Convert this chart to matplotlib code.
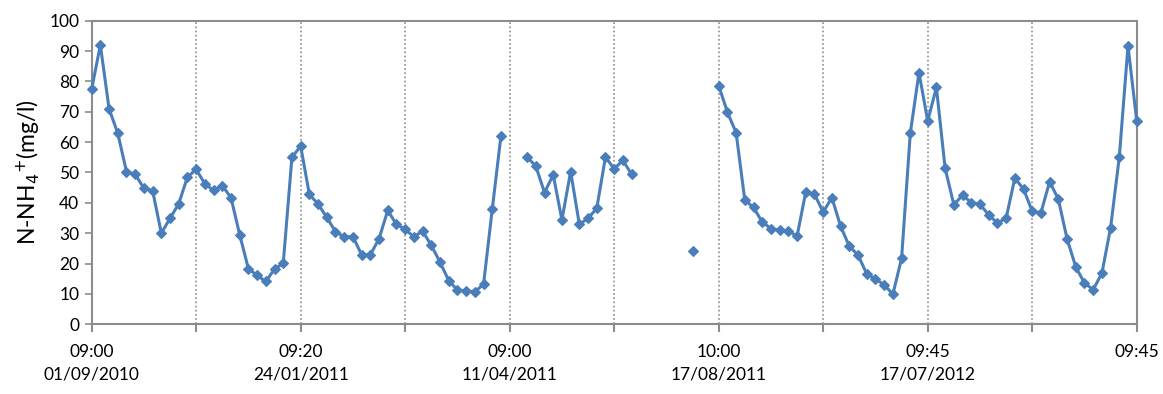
import matplotlib
matplotlib.use('Agg')
import matplotlib.pyplot as plt
import numpy as np

nan = np.nan

# N-NH4+ concentration (mg/l), one value per sample, gaps are missing samples
nh4 = [
    77.4, 92.0, 71.0, 62.9, 50.3, 49.4, 44.8, 44.0, 30.0, 34.9, 39.7, 48.5,
    51.0, 46.3, 44.1, 45.7, 41.7, 29.5, 18.3, 16.1, 14.1, 18.2, 20.1, 55.0,
    58.7, 42.8, 39.6, 35.2, 30.5, 28.8, 28.9, 22.9, 22.9, 28.2, 37.5, 32.9,
    31.3, 28.8, 30.7, 26.0, 20.5, 14.4, 11.3, 11.0, 10.7, 13.2, 37.9, 62.1,
    nan, nan, 55.1, 52.1, 43.4, 49.2, 34.4, 50.3, 32.9, 34.9, 38.2, 55.1,
    51.2, 54.0, 49.4, nan, nan, nan, nan, nan, nan, 24.1, nan, nan,
    78.6, 69.9, 63.1, 40.9, 38.5, 33.7, 31.5, 31.0, 30.8, 29.0, 43.6, 42.8,
    37.0, 41.7, 32.3, 25.7, 22.8, 16.6, 14.9, 13.0, 9.9, 21.7, 62.9, 82.9,
    67.0, 78.0, 51.4, 39.4, 42.5, 40.1, 39.6, 36.0, 33.4, 34.9, 48.1, 44.6,
    37.2, 36.7, 47.0, 41.2, 28.2, 18.9, 13.6, 11.4, 16.8, 31.8, 55.1, 91.7,
    67.0,
]

tick_labels = ['09:00\n01/09/2010', '09:20\n24/01/2011', '09:00\n11/04/2011',
               '10:00\n17/08/2011', '09:45\n17/07/2012', '09:45\n']

plt.rcParams['font.family'] = ['Lato', 'DejaVu Sans']

x = np.arange(len(nh4))
y = np.array(nh4)

fig = plt.figure(figsize=(11.63, 3.94), dpi=100)
ax = fig.add_axes([0.0788, 0.1769, 0.8986, 0.7706])

# dotted separators between sampling campaigns
for xv in range(12, len(nh4) - 1, 12):
    ax.axvline(xv, color='#8c8c8c', linestyle=(0, (1, 1.5)), linewidth=1.2, zorder=1)

ax.plot(x, y, '-D', color='#4a7ebb', linewidth=2.2, markersize=5,
        markeredgewidth=0.8, clip_on=False, zorder=3)

ax.set_xlim(0, len(nh4) - 1)
ax.set_ylim(0, 100)
ax.set_yticks(np.arange(0, 101, 10))
ax.set_xticks(np.arange(0, len(nh4), 12), minor=False)
ax.set_xticklabels([tick_labels[i // 2] if i % 2 == 0 else '' for i in range(11)],
                   fontsize=12.5, linespacing=1.5)
ax.tick_params(axis='y', labelsize=12.5, length=5, width=1.2, color='#8c8c8c', pad=4)
ax.tick_params(axis='x', length=6, width=1.5, color='#8c8c8c', pad=8)

for side in ['left', 'bottom', 'right', 'top']:
    ax.spines[side].set_color('#8c8c8c')
    ax.spines[side].set_linewidth(1.5)

ax.set_ylabel('N-NH$_4$$^{+}$(mg/l)', fontsize=16.5, labelpad=5)

fig.savefig('out.png', dpi=100)
